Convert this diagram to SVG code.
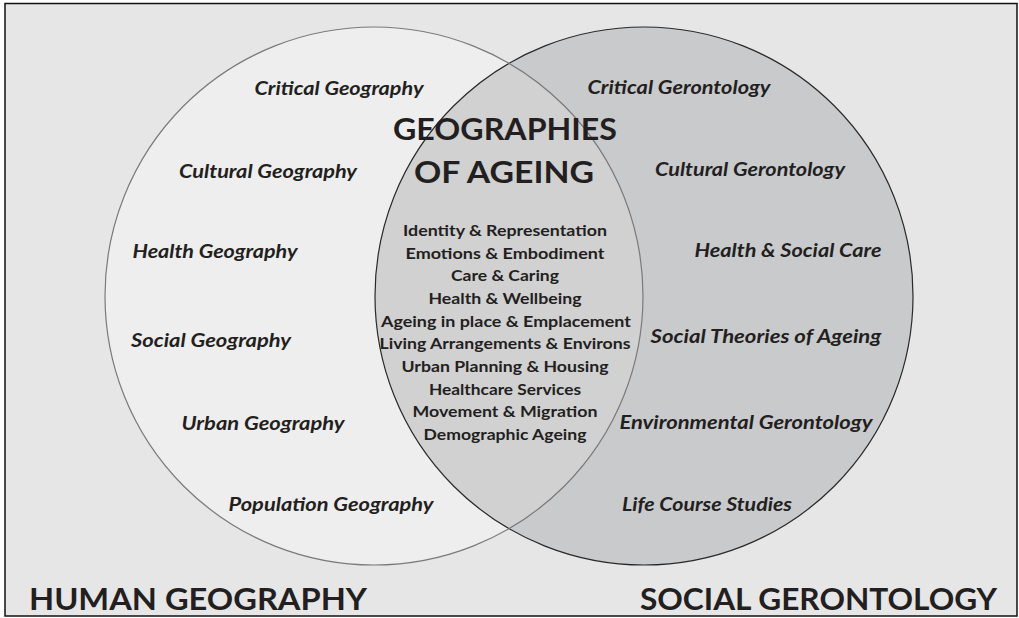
<svg xmlns="http://www.w3.org/2000/svg" width="1019" height="618" viewBox="0 0 1019 618">
  <style>
    text { font-family: Lato, "Open Sans", "Liberation Sans", sans-serif; font-weight: 700; fill: #231f20; }
    .lbl { font-style: italic; font-size: 19.5px; text-anchor: middle; }
    .topic { font-size: 16px; text-anchor: middle; }
    .title { font-size: 31px; text-anchor: middle; }
    .field { font-size: 31px; }
  </style>
  <defs>
    <clipPath id="leftClip">
      <circle cx="374" cy="296" r="269"/>
    </clipPath>
  </defs>

  <!-- page and frame -->
  <rect x="0" y="0" width="1019" height="618" fill="#ffffff"/>
  <rect x="5" y="3.5" width="1012" height="612.5" fill="#e6e6e6" stroke="#111111" stroke-width="1.5"/>

  <!-- Human Geography circle -->
  <g id="human-geography">
    <circle cx="374" cy="296" r="269" fill="#eeeeee"/>
  </g>

  <!-- Social Gerontology circle -->
  <g id="social-gerontology">
    <circle cx="644" cy="296" r="269" fill="#c9cacc"/>
  </g>

  <!-- overlap: Geographies of Ageing -->
  <g id="geographies-of-ageing">
    <circle cx="644" cy="296" r="269" fill="#d1d1d2" clip-path="url(#leftClip)"/>
  </g>

  <!-- circle outlines -->
  <g id="outlines" fill="none">
    <circle cx="644" cy="296" r="269" stroke="#2a2a2a" stroke-width="1.2"/>
    <circle cx="374" cy="296" r="269" stroke="#7a7a7a" stroke-width="1.2"/>
  </g>

  <!-- Human Geography sub-fields -->
  <g id="hg-labels">
    <text class="lbl" x="339" y="95" textLength="169" lengthAdjust="spacingAndGlyphs">Critical Geography</text>
    <text class="lbl" x="268" y="178" textLength="178" lengthAdjust="spacingAndGlyphs">Cultural Geography</text>
    <text class="lbl" x="215" y="258" textLength="165" lengthAdjust="spacingAndGlyphs">Health Geography</text>
    <text class="lbl" x="211" y="347" textLength="160" lengthAdjust="spacingAndGlyphs">Social Geography</text>
    <text class="lbl" x="263" y="430" textLength="163" lengthAdjust="spacingAndGlyphs">Urban Geography</text>
    <text class="lbl" x="331" y="511" textLength="205" lengthAdjust="spacingAndGlyphs">Population Geography</text>
  </g>

  <!-- Social Gerontology sub-fields -->
  <g id="sg-labels">
    <text class="lbl" x="679" y="94" textLength="183" lengthAdjust="spacingAndGlyphs">Critical Gerontology</text>
    <text class="lbl" x="750" y="176" textLength="190" lengthAdjust="spacingAndGlyphs">Cultural Gerontology</text>
    <text class="lbl" x="788" y="257" textLength="187" lengthAdjust="spacingAndGlyphs">Health &amp; Social Care</text>
    <text class="lbl" x="766" y="343" textLength="231" lengthAdjust="spacingAndGlyphs">Social Theories of Ageing</text>
    <text class="lbl" x="746" y="429" textLength="253" lengthAdjust="spacingAndGlyphs">Environmental Gerontology</text>
    <text class="lbl" x="707" y="511" textLength="170" lengthAdjust="spacingAndGlyphs">Life Course Studies</text>
  </g>

  <!-- shared themes -->
  <g id="overlap-title">
    <text class="title" x="505" y="140" textLength="224" lengthAdjust="spacingAndGlyphs">GEOGRAPHIES</text>
    <text class="title" x="504" y="183" textLength="180" lengthAdjust="spacingAndGlyphs">OF AGEING</text>
  </g>
  <g id="overlap-topics">
    <text class="topic" x="505" y="236" textLength="204" lengthAdjust="spacingAndGlyphs">Identity &amp; Representation</text>
    <text class="topic" x="505" y="259" textLength="199" lengthAdjust="spacingAndGlyphs">Emotions &amp; Embodiment</text>
    <text class="topic" x="505" y="281" textLength="108" lengthAdjust="spacingAndGlyphs">Care &amp; Caring</text>
    <text class="topic" x="505" y="304" textLength="153" lengthAdjust="spacingAndGlyphs">Health &amp; Wellbeing</text>
    <text class="topic" x="506" y="327" textLength="250" lengthAdjust="spacingAndGlyphs">Ageing in place &amp; Emplacement</text>
    <text class="topic" x="505" y="349" textLength="251" lengthAdjust="spacingAndGlyphs">Living Arrangements &amp; Environs</text>
    <text class="topic" x="505" y="372" textLength="207" lengthAdjust="spacingAndGlyphs">Urban Planning &amp; Housing</text>
    <text class="topic" x="505" y="395" textLength="152" lengthAdjust="spacingAndGlyphs">Healthcare Services</text>
    <text class="topic" x="505" y="417" textLength="185" lengthAdjust="spacingAndGlyphs">Movement &amp; Migration</text>
    <text class="topic" x="505" y="440" textLength="163" lengthAdjust="spacingAndGlyphs">Demographic Ageing</text>
  </g>

  <!-- field names -->
  <g id="field-names">
    <text class="field" x="29" y="610" textLength="338" lengthAdjust="spacingAndGlyphs">HUMAN GEOGRAPHY</text>
    <text class="field" x="640" y="610" textLength="357" lengthAdjust="spacingAndGlyphs">SOCIAL GERONTOLOGY</text>
  </g>
</svg>
